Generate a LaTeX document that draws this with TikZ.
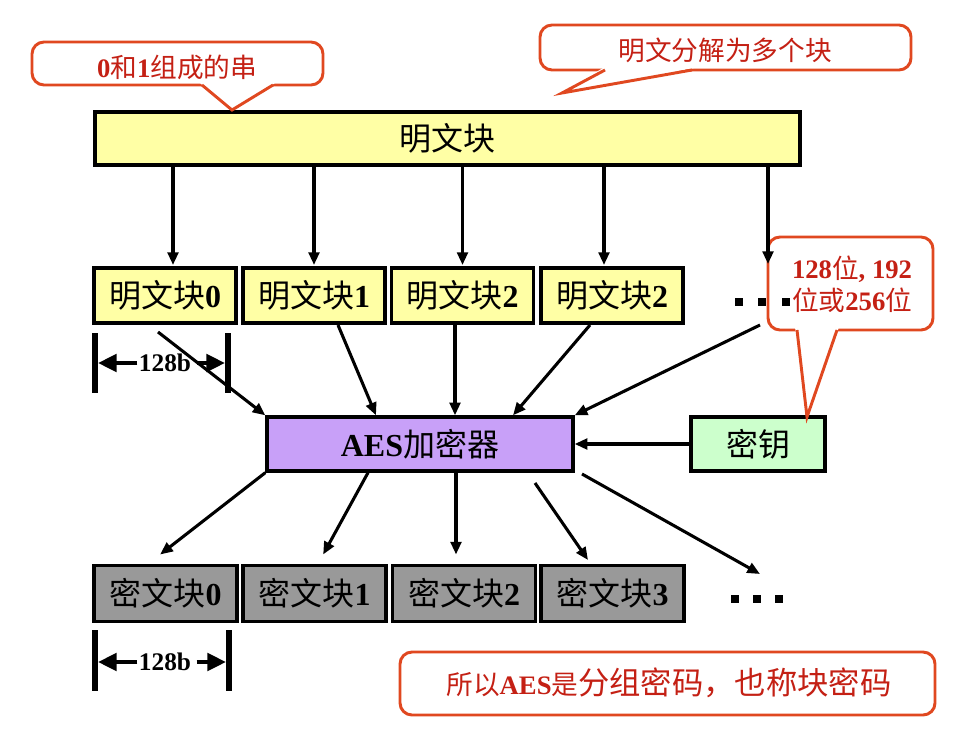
\documentclass[tikz,border=0pt]{standalone}
\usepackage{fontspec}
\setmainfont{Liberation Serif}
\newfontfamily\cjk{Noto Sans CJK SC}
\usetikzlibrary{arrows.meta}
\newcommand\zh[1]{{\cjk\mdseries #1}}
\definecolor{plainyel}{RGB}{255,255,165}
\definecolor{aespurple}{RGB}{200,160,248}
\definecolor{keygreen}{RGB}{204,255,204}
\definecolor{ciphgray}{RGB}{153,153,153}
\definecolor{bubline}{RGB}{224,72,32}
\definecolor{bubtext}{RGB}{196,32,20}
\begin{document}
\begin{tikzpicture}[x=0.75pt,y=-0.75pt,
  blk/.style={draw=black, line width=2.5pt, inner sep=0pt, font=\fontsize{24}{28}\selectfont},
  plainbox/.style={blk, fill=plainyel, minimum width=142*0.75pt, minimum height=55*0.75pt},
  ciphbox/.style={blk, fill=ciphgray, minimum width=143*0.75pt, minimum height=56*0.75pt},
  arr/.style={line width=2.3pt, -{Triangle[length=9.5pt,width=8pt]}},
  dimarr/.style={line width=3pt, -{Triangle[length=14pt,width=13pt]}},
  dimbar/.style={line width=4.5pt},
  dotsq/.style={fill=black, minimum size=6pt, inner sep=0pt},
  bub/.style={draw=bubline, line width=2.2pt, fill=white, rounded corners=9pt},
  bubedge/.style={draw=bubline, line width=2.2pt, line join=miter},
  bubtxt/.style={text=bubtext, font=\bfseries\fontsize{20}{24}\selectfont, align=center, inner sep=0pt}
]
\useasboundingbox (0,0) rectangle (970,742);

% main plaintext box
\node[blk, fill=plainyel, minimum width=705*0.75pt, minimum height=53*0.75pt] (main) at (447.5,138.5) {\zh{明文块}};

% plaintext blocks
\node[plainbox] (p0) at (165,295.5) {\zh{明文块}\textbf{0}};
\node[plainbox] (p1) at (314,295.5) {\zh{明文块}\textbf{1}};
\node[plainbox] (p2) at (462.5,295.5) {\zh{明文块}\textbf{2}};
\node[plainbox] (p3) at (612,295.5) {\zh{明文块}\textbf{2}};

% AES and key
\node[blk, fill=aespurple, minimum width=306*0.75pt, minimum height=54*0.75pt] (aes) at (420,444) {\textbf{AES}\zh{加密器}};
\node[blk, fill=keygreen, minimum width=134*0.75pt, minimum height=54*0.75pt] (key) at (758,444) {\zh{密钥}};

% ciphertext blocks
\node[ciphbox] (c0) at (165.5,593.5) {\zh{密文块}\textbf{0}};
\node[ciphbox] (c1) at (314.5,593.5) {\zh{密文块}\textbf{1}};
\node[ciphbox] (c2) at (464,593.5) {\zh{密文块}\textbf{2}};
\node[ciphbox] (c3) at (612.5,593.5) {\zh{密文块}\textbf{3}};

% bubble 3 (key length)
\draw[bub] (768,237) rectangle (933,330);
\fill[white] (795,327) -- (807,417) -- (839,327) -- cycle;
\draw[bubedge] (797,330) -- (807,417) -- (837,330);
\node[bubtxt] (bkey) at (852,284) {\textbf{128}\zh{位}\textbf{, 192}\\\zh{位或}\textbf{256}\zh{位}};

% dots
\node[dotsq] (d1) at (739,302) {};
\node[dotsq] (d2) at (762,302) {};
\node[dotsq] (d3) at (786,302) {};
\node[dotsq] (e1) at (735,599) {};
\node[dotsq] (e2) at (757,599) {};
\node[dotsq] (e3) at (779,599) {};

% coordinates for free ends
\coordinate (ptop) at (768,264);
\coordinate (s0) at (158,332);
\coordinate (s1) at (338,325);
\coordinate (s3) at (590,325);
\coordinate (s4) at (760,325);
\coordinate (t3) at (588,560);
\coordinate (t4) at (760,574);
\coordinate (o3) at (535,483);
\coordinate (o4) at (582,474);

% arrows from main box to blocks
\draw[arr] ([xshift=6pt]p0.north |- main.south) -- ([xshift=6pt,yshift=1pt]p0.north);
\draw[arr] (p1.north |- main.south) -- ([yshift=1pt]p1.north);
\draw[arr] (p2.north |- main.south) -- ([yshift=1pt]p2.north);
\draw[arr] ([xshift=-6pt]p3.north |- main.south) -- ([xshift=-6pt,yshift=1pt]p3.north);
\draw[arr] (ptop |- main.south) -- (ptop);

% arrows into AES
\draw[arr] (s1) -- (aes.north -| 376,0);
\draw[arr] (p2.south -| 455,0) -- (aes.north -| 455,0);
\draw[arr] (s3) -- (aes.north -| 513,0);
\draw[arr] (s4) -- (aes.north east);
\draw[arr] (key.west) -- (aes.east);

% arrows out of AES
\draw[arr] (aes.south west) -- ([xshift=-4pt,yshift=7pt]c0.north);
\draw[arr] (aes.south -| 368,0) -- ([xshift=6.5pt,yshift=7pt]c1.north);
\draw[arr] (aes.south -| 456,0) -- ([yshift=7pt]c2.north -| 456,0);
\draw[arr] (o3) -- (t3);
\draw[arr] (o4) -- (t4);

% dimension markers
\draw[dimbar] (95,333) -- (95,393);
\draw[dimbar] (228,333) -- (228,393);
\node[font=\bfseries\fontsize{19}{22}\selectfont, inner sep=1pt] (dim1) at (165,363) {128b};
\draw[dimarr] (dim1.west) -- (98,363);
\draw[dimarr] ([xshift=3pt]dim1.east) -- (225,363);
\draw[arr] (s0) -- (aes.north west);

\draw[dimbar] (95,630) -- (95,691);
\draw[dimbar] (229,630) -- (229,691);
\node[font=\bfseries\fontsize{19}{22}\selectfont, inner sep=1pt] (dim2) at (165,662) {128b};
\draw[dimarr] (dim2.west) -- (98,662);
\draw[dimarr] ([xshift=3pt]dim2.east) -- (226,662);

% bubble 1
\draw[bub] (32,42) rectangle (323,85);
\fill[white] (200,83) -- (232,110) -- (275,83) -- cycle;
\draw[bubedge] (202,85) -- (232,110) -- (273,85);
\node[bubtxt] (b1) at (177,67) {\textbf{0}\zh{和}\textbf{1}\zh{组成的串}};

% bubble 2
\draw[bub] (540,25) rectangle (911,70);
\fill[white] (603,68) -- (562,93) -- (694,68) -- cycle;
\draw[bubedge] (605,70) -- (562,93) -- (692,70);
\node[bubtxt] (b2) at (725,50) {\zh{明文分解为多个块}};

% bubble 4
\draw[bub] (400,652) rectangle (935,715);
\node[bubtxt] (b4) at (669,683) {\zh{所以}\textbf{AES}\zh{是}{\fontsize{23.5}{28}\selectfont\zh{分组密码，也称块密码}}};
\end{tikzpicture}
\end{document}
